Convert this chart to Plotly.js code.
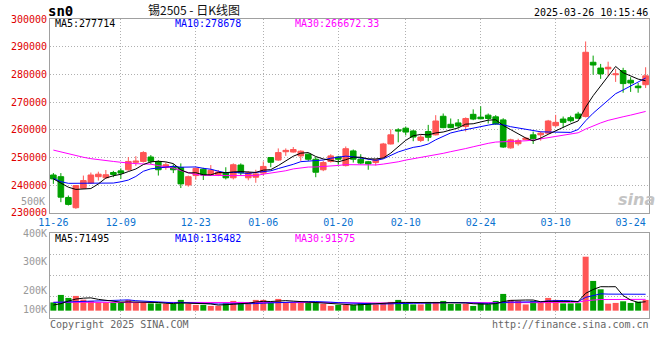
<!DOCTYPE html>
<html><head><meta charset="utf-8">
<script src="https://cdn.plot.ly/plotly-3.0.1.min.js"></script>
<style>html,body{margin:0;padding:0;background:#fff}#chart{width:660px;height:360px}</style>
</head><body><div id="chart"></div>
<script>
// ---------------- data ----------------
const dates = ['11-26','11-27','11-28','11-29','12-02','12-03','12-04','12-05','12-06','12-09','12-10','12-11','12-12','12-13','12-16','12-17','12-18','12-19','12-20','12-23','12-24','12-25','12-26','12-27','12-30','12-31','01-02','01-03','01-06','01-07','01-08','01-09','01-10','01-13','01-14','01-15','01-16','01-17','01-20','01-21','01-22','01-23','01-24','01-27','02-05','02-06','02-07','02-10','02-11','02-12','02-13','02-14','02-17','02-18','02-19','02-20','02-21','02-24','02-25','02-26','02-27','02-28','03-03','03-04','03-05','03-06','03-07','03-10','03-11','03-12','03-13','03-14','03-17','03-18','03-19','03-20','03-21','03-24','03-25','03-26'];

const openP = [243700,243100,235600,231900,238900,240800,243100,242700,244600,245200,
245600,248300,248600,250200,248500,246400,246800,246400,240100,243500,
245800,243800,243800,244500,242700,247300,242700,242900,244400,250000,
249100,252100,252000,250600,251200,249400,245600,248600,250200,247100,
252400,249400,248500,248200,250000,254900,260000,260600,259600,256200,
259400,258200,264900,262000,262500,261200,265600,264600,265300,264700,
263600,253500,255000,256500,258200,258200,258800,261500,263900,264400,
265700,264800,284400,282300,282000,279900,281400,277900,275800,276300];

const highP = [244400,244400,236300,240100,243500,244600,244900,245500,245200,246100,
250200,250500,252300,250900,249000,248200,247600,247900,243500,246400,
246300,247300,245500,246500,247900,247900,245100,245600,248600,250100,
253300,253300,253800,252600,251500,250200,248800,251200,250600,254000,
252900,251200,248800,249400,255300,260200,260600,261200,260000,258200,
261800,265300,265900,264100,263900,264500,267400,268500,265900,265300,
264200,256800,256800,257400,259400,259400,263600,265400,264800,265100,
266500,291900,286800,283800,284600,282000,282400,279000,276900,282600];

const lowP = [240500,233900,232700,231500,238700,240500,241700,242300,242900,242300,
245200,247000,248200,247600,243500,245600,244400,239000,239500,242000,
241900,243500,243300,242100,242100,243500,241800,240900,243500,246500,
248800,250600,251800,248800,248800,242900,245100,248200,247400,246800,
248200,247600,245600,247100,249800,254700,255500,258000,255900,255600,
255900,258000,260600,260600,260600,259400,263500,263800,262300,261800,
253500,253200,254300,256200,254900,256100,258600,261000,260800,262700,
263900,264500,279900,278400,279400,277300,273400,273700,273400,275100];

const closeP = [242300,235700,233100,239900,241700,243700,244000,243800,243900,244400,
248600,248700,251800,248700,245600,247400,245600,240500,243100,246100,
243700,245400,244800,242700,247400,244500,244500,244100,246800,248300,
251800,252600,252900,252300,249400,244700,248200,250600,249400,253200,
249400,248000,247700,249200,254900,258200,259600,259200,257400,257400,
257300,263200,260800,260800,261400,264100,263900,264000,264100,262100,
253800,256400,256100,257000,256800,258800,263200,262700,262700,263300,
264200,288000,283400,280200,282600,280200,276700,276900,275200,279500];

const volume = [66000,126000,102000,118000,88000,78000,66000,66000,66000,66000,
86000,62000,62000,58000,58000,54000,54000,86000,54000,46000,
46000,38000,38000,58000,78000,70000,54000,86000,86000,70000,
94000,66000,66000,66000,70000,70000,54000,38000,46000,46000,
46000,62000,62000,50000,62000,70000,86000,62000,50000,50000,
70000,70000,78000,54000,54000,54000,38000,62000,50000,78000,
134000,86000,78000,50000,78000,64000,102000,86000,58000,58000,
60000,432000,238000,171000,56000,62000,75000,62000,72000,86000];

// moving-average values before enough history exists inside the window
const ma5Head  = [242300,240900,239300,238500];
const ma10Head = [242500,241300,240700,240700,240700,240700,240700,240700,240800];
const ma30Head = [252700,252000,251300,250600,250100,249600,249200,248900,248600,248300,
248000,247800,247700,247600,247100,246700,246200,245300,244500,243900,
243600,243500,243500,243500,243500,243500,243500,243500,244000];
const volMa5Head  = [45000,56000,77000,93000];
const volMa10Head = [66000,68000,70000,72000,74000,76000,77000,78000,80000];
const volMa30Head = [67000,67000,67000,67000,67000,67000,67000,67000,67000,67000,
67000,67000,67000,67000,67000,67000,67000,67000,67000,67000,
67000,65000,65000,65000,65000,65000,65000,65000,66000];

const priceTicks = [230000,240000,250000,260000,270000,280000,290000,300000];
const priceTickText = ['230000','240000','250000','260000','270000','280000','290000','300000'];
const dateTicks = ['11-26','12-09','12-23','01-06','01-20','02-10','02-24','03-10','03-24'];
const gridDates = ['12-09','12-23','01-06','01-20','02-10','02-24','03-10'];
const volTickText = ['100K','200K','300K','400K'];
const priceMaLabels = ['MA5:277714','MA10:278678','MA30:266672.33'];
const volMaLabels = ['MA5:71495','MA10:136482','MA30:91575'];
const titleText = '锡2505 - 日K线图';
const codeText = 'sn0';
const timeText = '2025-03-26 10:15:46';
const copyText = 'Copyright 2025 SINA.COM';
const urlText = 'http://finance.sina.com.cn';

// ---------------- derived ----------------
const idx = dates.map((d, i) => i);
function movingAvg(series, n, head) {
  return series.map((v, i) => {
    if (i < n - 1) return head[i];
    let s = 0;
    for (let k = i - n + 1; k <= i; k++) s += series[k];
    return s / n;
  });
}
const RED = '#ff5555', GREEN = '#00a000';
const MA_COLORS = ['#000000', '#0000ff', '#ff00ff'];
const MONO = '"DejaVu Sans Mono", "Liberation Mono", monospace';

const ma5 = movingAvg(closeP, 5, ma5Head);
const ma10 = movingAvg(closeP, 10, ma10Head);
const ma30 = movingAvg(closeP, 30, ma30Head);
const vma5 = movingAvg(volume, 5, volMa5Head);
const vma10 = movingAvg(volume, 10, volMa10Head);
const vma30 = movingAvg(volume, 30, volMa30Head);
const volColors = idx.map(i => closeP[i] >= openP[i] ? RED : GREEN);

const traces = [
  {type: 'candlestick', x: idx, open: openP, high: highP, low: lowP, close: closeP,
   xaxis: 'x', yaxis: 'y', whiskerwidth: 0,
   increasing: {line: {color: RED, width: 1}, fillcolor: RED},
   decreasing: {line: {color: GREEN, width: 1}, fillcolor: GREEN},
   hoverinfo: 'skip', showlegend: false},
  {type: 'scatter', mode: 'lines', x: idx, y: ma30, xaxis: 'x', yaxis: 'y', line: {color: MA_COLORS[2], width: 1}, hoverinfo: 'skip'},
  {type: 'scatter', mode: 'lines', x: idx, y: ma10, xaxis: 'x', yaxis: 'y', line: {color: MA_COLORS[1], width: 1}, hoverinfo: 'skip'},
  {type: 'scatter', mode: 'lines', x: idx, y: ma5, xaxis: 'x', yaxis: 'y', line: {color: MA_COLORS[0], width: 1}, hoverinfo: 'skip'},
  {type: 'bar', x: idx, y: volume, xaxis: 'x2', yaxis: 'y2', marker: {color: volColors, line: {width: 0}}, hoverinfo: 'skip'},
  {type: 'scatter', mode: 'lines', x: idx, y: vma30, xaxis: 'x2', yaxis: 'y2', line: {color: MA_COLORS[2], width: 1}, hoverinfo: 'skip'},
  {type: 'scatter', mode: 'lines', x: idx, y: vma10, xaxis: 'x2', yaxis: 'y2', line: {color: MA_COLORS[1], width: 1}, hoverinfo: 'skip'},
  {type: 'scatter', mode: 'lines', x: idx, y: vma5, xaxis: 'x2', yaxis: 'y2', line: {color: MA_COLORS[0], width: 1}, hoverinfo: 'skip'},
  // carriers for the grid-only overlay axes
  {type: 'scatter', mode: 'markers', x: [0], y: [null], xaxis: 'x3', yaxis: 'y', hoverinfo: 'skip'},
  {type: 'scatter', mode: 'markers', x: [0], y: [null], xaxis: 'x2', yaxis: 'y3', hoverinfo: 'skip'}
];

// ---------------- layout ----------------
const L = 50, R = 11, T = 19, B = 42, W = 660, H = 360;
const PW = W - L - R, PH = H - T - B;
const px = x => (x - L) / PW;
const py = y => (H - B - y) / PH;
const XR = [-0.45, 79.45];
const GRID = '#b0b0b0', BORDER = '#a0a0a0', DOT = '1px,2px';
const tickIdx = dateTicks.map(d => dates.indexOf(d));
const gridIdx = gridDates.map(d => dates.indexOf(d));

function ann(text, x, y, color, anchor, extra) {
  return Object.assign({text: text, xref: 'paper', yref: 'paper', x: px(x), y: py(y),
    xanchor: anchor, yanchor: 'middle', showarrow: false, borderpad: 0,
    font: {family: MONO, size: 10, color: color}}, extra || {});
}

const annotations = [
  ann('<b>' + codeText + '</b>', 47, 11, '#000', 'left', {font: {family: MONO, size: 14, color: '#000'}}),
  ann(titleText, 194, 9.5, '#000', 'center', {font: {family: '"Noto Sans CJK SC", sans-serif', size: 12, color: '#111'}}),
  ann(timeText, 649, 12, '#000', 'right'),
  ann(priceMaLabels[0], 54, 24, MA_COLORS[0], 'left'),
  ann(priceMaLabels[1], 174, 24, MA_COLORS[1], 'left'),
  ann(priceMaLabels[2], 294, 24, MA_COLORS[2], 'left'),
  ann(volMaLabels[0], 54, 238.5, MA_COLORS[0], 'left'),
  ann(volMaLabels[1], 174, 238.5, MA_COLORS[1], 'left'),
  ann(volMaLabels[2], 294, 238.5, MA_COLORS[2], 'left'),
  ann(copyText, 49, 324, '#666', 'left'),
  ann(urlText, 650, 324, '#666', 'right'),
  ann('500K', 46, 201, '#999', 'right'),
  ann('<b><i>sina</i></b>', 636, 199, '#c8c8c8', 'center', {font: {family: '"DejaVu Sans", sans-serif', size: 16, color: '#c4c4c4'}})
];

const volTickVals = [5600, 160000, 392000, 618000];
const volRange = [-58700, 621600];

const layout = {
  width: W, height: H, margin: {l: L, r: R, t: T, b: B, pad: 0},
  paper_bgcolor: '#fff', plot_bgcolor: '#fff', showlegend: false,
  boxgap: 0.25, boxgroupgap: 0, bargap: 0.2,
  xaxis: {domain: [0, 1], anchor: 'y', range: XR, tickmode: 'array', tickvals: tickIdx, ticktext: dateTicks,
    tickfont: {family: MONO, size: 10, color: '#0a72d0'}, ticks: '', showgrid: false, zeroline: false,
    showline: true, linecolor: BORDER, linewidth: 1, mirror: true, rangeslider: {visible: false}, fixedrange: true, automargin: false},
  xaxis3: {overlaying: 'x', anchor: 'y', range: XR, tickmode: 'array', tickvals: gridIdx, showticklabels: false, ticks: '',
    showgrid: true, gridcolor: GRID, griddash: DOT, gridwidth: 1, zeroline: false, showline: false, fixedrange: true},
  yaxis: {domain: [105 / PH, 1], anchor: 'x', range: [229990, 300010], tickmode: 'array', tickvals: priceTicks, ticktext: priceTickText,
    tickfont: {family: MONO, size: 10, color: '#e00000'}, ticks: '', showgrid: true, gridcolor: GRID, griddash: DOT, gridwidth: 1,
    zeroline: false, showline: true, linecolor: BORDER, linewidth: 1, mirror: true, fixedrange: true, automargin: false},
  xaxis2: {domain: [0, 1], anchor: 'y2', range: XR, tickmode: 'array', tickvals: gridIdx, showticklabels: false, ticks: '',
    showgrid: true, gridcolor: GRID, griddash: DOT, gridwidth: 1, zeroline: false,
    showline: true, linecolor: BORDER, linewidth: 1, mirror: true, fixedrange: true},
  yaxis2: {domain: [0, 85 / PH], anchor: 'x2', range: volRange, tickmode: 'array', tickvals: volTickVals, ticktext: volTickText,
    tickfont: {family: MONO, size: 10, color: '#999'}, ticks: '', showgrid: false, zeroline: false,
    showline: true, linecolor: BORDER, linewidth: 1, mirror: true, fixedrange: true, automargin: false},
  yaxis3: {overlaying: 'y2', anchor: 'x2', range: [0, 4], tickmode: 'array', tickvals: [1, 2, 3], showticklabels: false, ticks: '',
    showgrid: true, gridcolor: GRID, griddash: DOT, gridwidth: 1, zeroline: false, showline: false, fixedrange: true},
  annotations: annotations
};

Plotly.newPlot('chart', traces, layout, {staticPlot: true, displayModeBar: false});
</script>
</body></html>
